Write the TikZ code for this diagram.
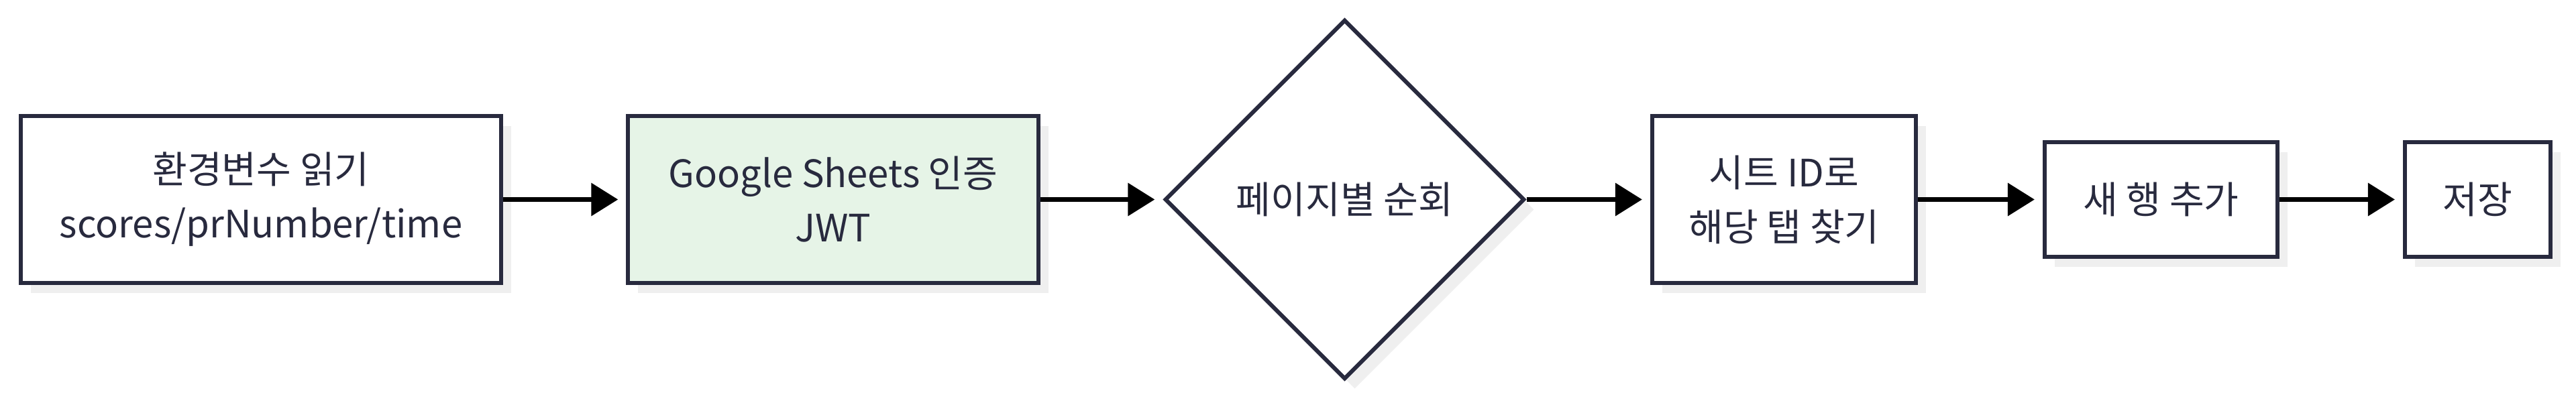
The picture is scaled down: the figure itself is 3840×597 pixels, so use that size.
\documentclass[tikz,border=0pt]{standalone}
\usepackage{fontspec}
\setmainfont{Noto Sans CJK KR}
\usetikzlibrary{shapes.geometric,shadows,arrows.meta}
\definecolor{ink}{HTML}{282A3E}
\definecolor{authfill}{HTML}{E6F4E7}
\definecolor{shade}{HTML}{EFEFEF}
\begin{document}
\begin{tikzpicture}[
  x=0.01cm, y=0.01cm,
  box/.style={draw=ink, line width=0.06cm, fill=white, align=center, text=ink,
              font=\fontsize{16}{23}\selectfont, inner sep=0pt,
              drop shadow={shadow xshift=0.15cm, shadow yshift=-0.15cm, fill=shade, opacity=1}},
  tall/.style={box, minimum height=2.49cm},
  short/.style={box, minimum height=1.71cm},
  decision/.style={box, diamond, aspect=1, minimum width=5.36cm, minimum height=5.36cm},
  arr/.style={-{Triangle[length=0.4cm, width=0.48cm]}, line width=0.07cm, shorten >=0.12cm},
]
  \useasboundingbox (0,-299.5) rectangle (3840,297.5);

  \node[tall, minimum width=7.16cm] (env) at (389,0) {환경변수 읽기\\scores/prNumber/time};
  \node[tall, minimum width=6.11cm, fill=authfill] (auth) at (1242,0) {Google Sheets 인증\\JWT};
  \node[decision] (pages) at (2004.5,0) {페이지별 순회};
  \node[tall, minimum width=3.93cm] (tab) at (2659.5,0) {시트 ID로\\해당 탭 찾기};
  \node[short, minimum width=3.47cm] (row) at (3221.5,0) {새 행 추가};
  \node[short, minimum width=2.17cm] (save) at (3693.5,0) {저장};

  \draw[arr] (env.east) -- (auth.west);
  \draw[arr] (auth.east) -- (pages.west);
  \draw[arr] (pages.east) -- (tab.west);
  \draw[arr] (tab.east) -- (row.west);
  \draw[arr] (row.east) -- (save.west);
\end{tikzpicture}
\end{document}
